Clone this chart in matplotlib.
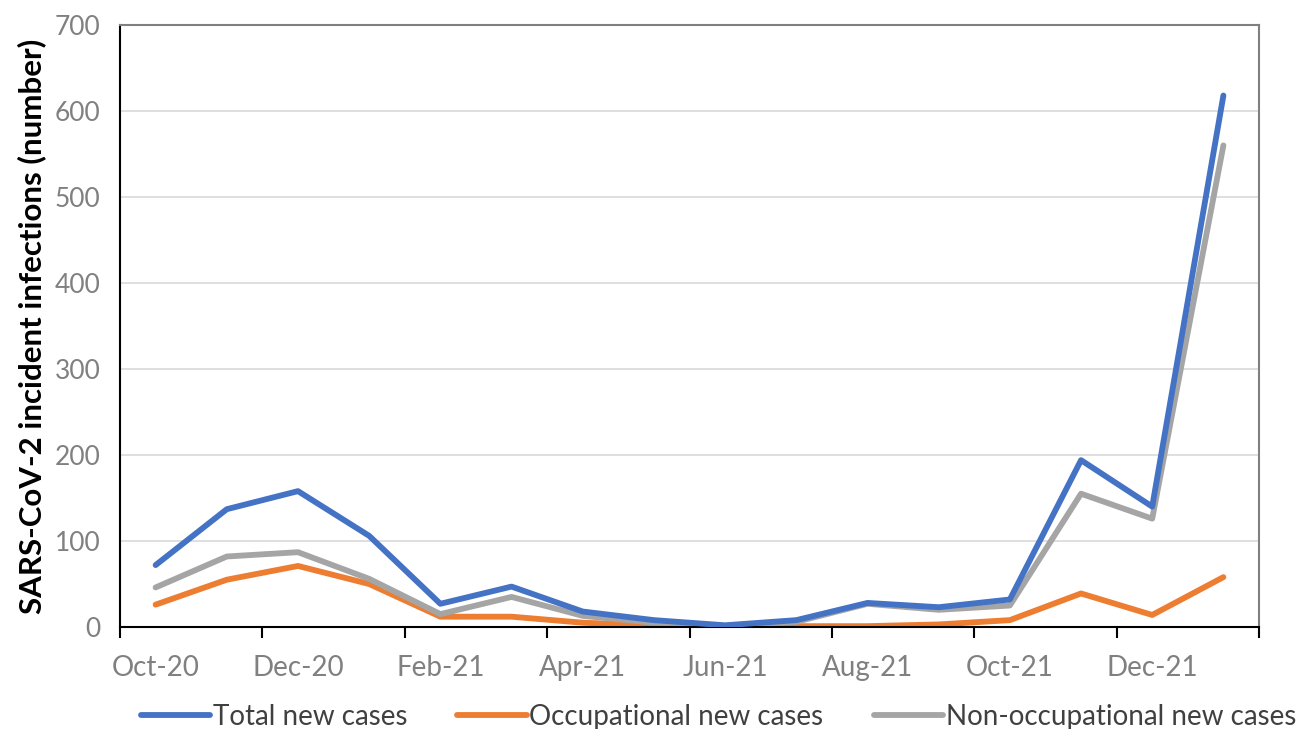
#!/usr/bin/env python3

import numpy as np
import matplotlib
matplotlib.use('Agg')
import matplotlib.pyplot as plt
from matplotlib.ticker import FixedLocator

months = ['Oct-20', 'Nov-20', 'Dec-20', 'Jan-21', 'Feb-21', 'Mar-21',
          'Apr-21', 'May-21', 'Jun-21', 'Jul-21', 'Aug-21', 'Sep-21',
          'Oct-21', 'Nov-21', 'Dec-21', 'Jan-22']

total = [72, 137, 158, 106, 27, 47, 18, 8, 2, 8, 28, 23, 32, 194, 140, 618]
occupational = [26, 55, 71, 50, 12, 12, 5, 2, 1, 1, 1, 3, 8, 39, 14, 58]
non_occupational = [46, 82, 87, 56, 15, 35, 13, 5, 1, 6, 27, 20, 25, 155, 126, 560]

c_blue, c_orange, c_gray = '#4472C4', '#ED7D31', '#A5A5A5'

plt.rcParams['font.family'] = ['Lato', 'DejaVu Sans']

fig = plt.figure(figsize=(12.99, 7.29), dpi=100)
ax = fig.add_axes([0.0924, 0.1399, 0.8768, 0.8258])

x = np.arange(len(months))
ax.plot(x, total, color=c_blue, lw=4.2, label='Total new cases',
        solid_capstyle='round', solid_joinstyle='round', zorder=3)
ax.plot(x, occupational, color=c_orange, lw=4.2,
        label='Occupational new cases',
        solid_capstyle='round', solid_joinstyle='round', zorder=2)
ax.plot(x, non_occupational, color=c_gray, lw=4.2,
        label='Non-occupational new cases',
        solid_capstyle='round', solid_joinstyle='round', zorder=2.5)

ax.set_xlim(-0.5, len(months) - 0.5)
ax.set_ylim(0, 700)
ax.set_yticks(np.arange(0, 701, 100))

# labels every 2nd month, tick marks between category pairs
ax.set_xticks(x[::2])
ax.set_xticklabels(months[::2])
ax.xaxis.set_minor_locator(FixedLocator(np.arange(-0.5, len(months), 2)))
ax.tick_params(axis='x', which='major', length=0, pad=20,
               labelsize=20, labelcolor='#808080')
ax.tick_params(axis='x', which='minor', length=8, width=1.5,
               color='black', direction='out')
ax.tick_params(axis='y', length=0, pad=14, labelsize=19,
               labelcolor='#808080')

ax.grid(axis='y', color='#D9D9D9', lw=1.2)
ax.set_axisbelow(True)

for side in ['left', 'bottom']:
    ax.spines[side].set_color('black')
    ax.spines[side].set_linewidth(1.5)
for side in ['top', 'right']:
    ax.spines[side].set_color('#808080')
    ax.spines[side].set_linewidth(1.5)

ax.set_ylabel('SARS-CoV-2 incident infections (number)', fontsize=22.5,
              fontweight='bold', labelpad=6)

leg = fig.legend(loc='lower center', bbox_to_anchor=(0.553, -0.035), ncol=3,
                 frameon=False, fontsize=20, handlelength=2.5,
                 handletextpad=0.1, columnspacing=1.8)
for t in leg.get_texts():
    t.set_color('#404040')

fig.savefig('out.png', dpi=100)
